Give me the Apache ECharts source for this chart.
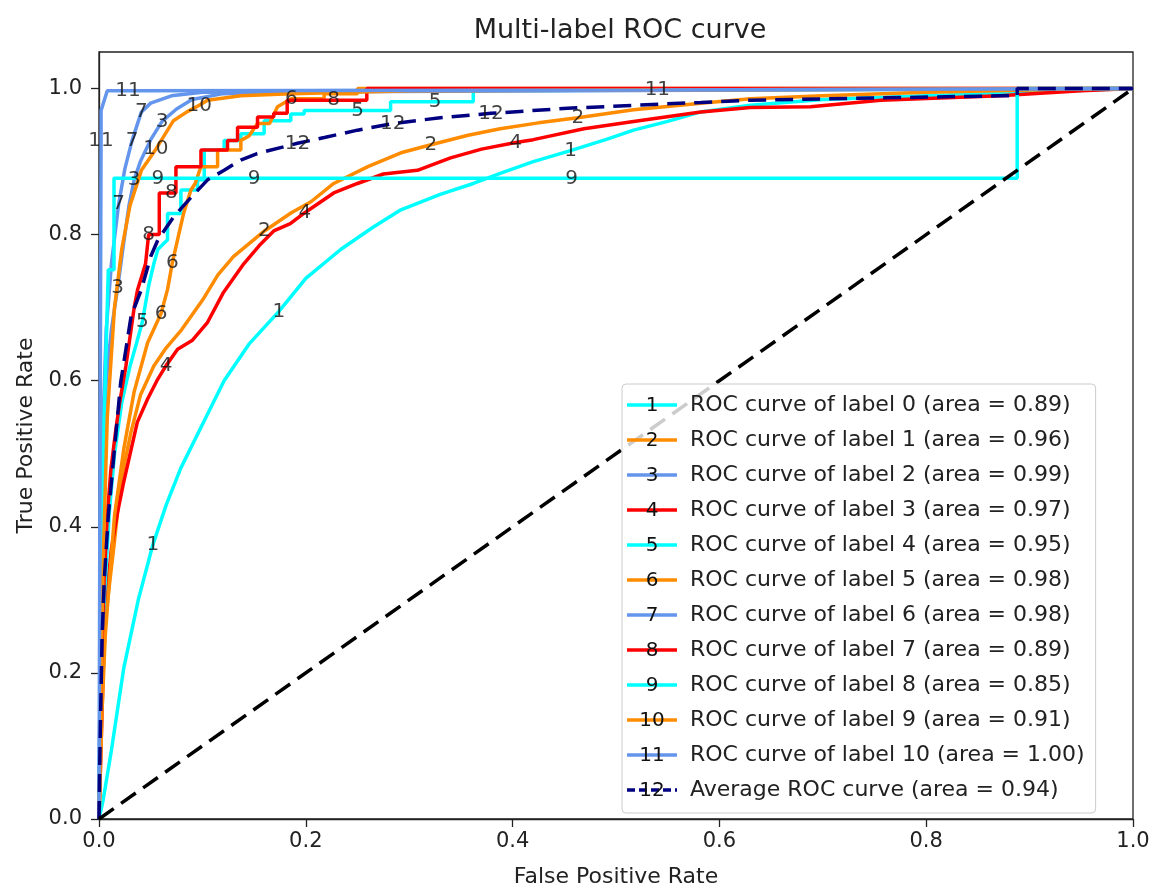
<!DOCTYPE html>
<html><head><meta charset="utf-8">
<script src="https://cdn.jsdelivr.net/npm/echarts@6/dist/echarts.min.js"></script>
<style>html,body{margin:0;padding:0;background:#fff}#c{width:1157px;height:893px}</style>
</head><body><div id="c"></div>
<script>
// ---- tick labels ----
const xTicks = [0, 0.2, 0.4, 0.6, 0.8, 1.0];
const yTicks = [0, 0.2, 0.4, 0.6, 0.8, 1.0];

// ---- legend / series meta ----
const curveLabels = ['0','1','2','3','4','5','6','7','8','9','10'];
const curveAreas  = ['0.89','0.96','0.99','0.97','0.95','0.98','0.98','0.89','0.85','0.91','1.00'];
const avgArea = '0.94';
const markerTexts = ['1','2','3','4','5','6','7','8','9','10','11','12'];

// ---- curve data [FPR, TPR] ----
const curve1 = [[0,0],[0.004,0.026],[0.012,0.094],[0.024,0.207],[0.038,0.30],[0.052,0.375],[0.065,0.43],[0.079,0.48],[0.1,0.54],[0.121,0.60],[0.145,0.65],[0.174,0.695],[0.2,0.74],[0.234,0.78],[0.265,0.81],[0.292,0.834],[0.33,0.855],[0.362,0.87],[0.39,0.885],[0.42,0.90],[0.456,0.915],[0.49,0.93],[0.517,0.943],[0.55,0.955],[0.582,0.968],[0.63,0.977],[0.7,0.985],[0.8,0.99],[0.9,0.995],[1,1]];
const curve2 = [[0,0],[0.001,0.1],[0.003,0.2],[0.006,0.27],[0.01,0.32],[0.015,0.38],[0.021,0.462],[0.031,0.53],[0.04,0.58],[0.053,0.62],[0.065,0.645],[0.08,0.67],[0.1,0.71],[0.115,0.745],[0.13,0.77],[0.16,0.805],[0.186,0.83],[0.205,0.845],[0.227,0.87],[0.26,0.893],[0.292,0.912],[0.321,0.923],[0.357,0.936],[0.388,0.945],[0.425,0.953],[0.463,0.96],[0.517,0.971],[0.582,0.98],[0.63,0.986],[0.7,0.99],[0.8,0.995],[0.9,0.998],[1,1]];
const curve3 = [[0,0],[0.001,0.2],[0.002,0.35],[0.004,0.5],[0.007,0.6],[0.012,0.67],[0.018,0.727],[0.024,0.79],[0.029,0.84],[0.034,0.875],[0.04,0.9],[0.05,0.93],[0.061,0.955],[0.075,0.972],[0.09,0.985],[0.12,0.993],[0.2,0.997],[1,1]];
const curve4 = [[0,0],[0.002,0.1],[0.004,0.2],[0.007,0.30],[0.012,0.37],[0.018,0.42],[0.024,0.462],[0.037,0.543],[0.047,0.575],[0.056,0.60],[0.065,0.621],[0.076,0.643],[0.09,0.655],[0.105,0.68],[0.12,0.72],[0.14,0.76],[0.155,0.785],[0.169,0.805],[0.185,0.815],[0.199,0.83],[0.227,0.857],[0.25,0.87],[0.275,0.883],[0.308,0.888],[0.34,0.905],[0.37,0.917],[0.403,0.926],[0.42,0.93],[0.469,0.945],[0.517,0.955],[0.582,0.968],[0.63,0.974],[0.688,0.975],[0.756,0.984],[0.871,0.99],[0.95,0.997],[1,1]];
const curve5 = [[0,0],[0.002,0.15],[0.005,0.3],[0.01,0.42],[0.015,0.5],[0.022,0.57],[0.03,0.62],[0.036,0.65],[0.042,0.681],[0.048,0.73],[0.053,0.76],[0.057,0.78],[0.0663,0.793],[0.0663,0.829],[0.0792,0.829],[0.0792,0.861],[0.0953,0.861],[0.0953,0.875],[0.1018,0.875],[0.1018,0.916],[0.121,0.916],[0.121,0.929],[0.1372,0.929],[0.1372,0.938],[0.1597,0.938],[0.1597,0.956],[0.1855,0.956],[0.1855,0.965],[0.1984,0.965],[0.1984,0.97],[0.25,0.97],[0.282,0.97],[0.282,0.982],[0.325,0.982],[0.362,0.982],[0.362,0.997],[1,1]];
const curve6 = [[0,0],[0.003,0.15],[0.006,0.25],[0.01,0.325],[0.015,0.415],[0.024,0.507],[0.034,0.585],[0.047,0.652],[0.06,0.692],[0.0663,0.725],[0.071,0.762],[0.076,0.793],[0.082,0.83],[0.0889,0.861],[0.093,0.87],[0.0986,0.893],[0.1147,0.893],[0.1147,0.916],[0.1372,0.916],[0.1372,0.929],[0.145,0.935],[0.1533,0.952],[0.165,0.952],[0.1726,0.975],[0.186,0.986],[0.2177,0.986],[0.2177,0.993],[0.25,0.993],[0.25,1],[1,1]];
const curve7 = [[0,0],[0.001,0.2],[0.002,0.35],[0.004,0.55],[0.007,0.67],[0.012,0.76],[0.019,0.842],[0.025,0.89],[0.032,0.929],[0.041,0.968],[0.05,0.98],[0.07,0.99],[0.1,0.995],[1,1]];
const curve8 = [[0,0],[0.002,0.2],[0.005,0.33],[0.008,0.415],[0.0116,0.48],[0.016,0.53],[0.02,0.57],[0.026,0.62],[0.03,0.66],[0.034,0.70],[0.0374,0.725],[0.045,0.76],[0.048,0.80],[0.0583,0.80],[0.0583,0.857],[0.07,0.857],[0.0744,0.857],[0.0744,0.893],[0.0986,0.893],[0.0986,0.916],[0.1243,0.916],[0.1243,0.929],[0.134,0.929],[0.134,0.947],[0.1533,0.947],[0.1533,0.961],[0.169,0.961],[0.169,0.966],[0.182,0.966],[0.182,0.984],[0.227,0.984],[0.259,0.984],[0.259,1.0],[1,1]];
const curve9 = [[0,0],[0.002,0.3],[0.005,0.55],[0.009,0.752],[0.0145,0.752],[0.0145,0.877],[0.057,0.877],[0.15,0.877],[0.457,0.877],[0.888,0.877],[0.888,1.0],[1,1]];
const curve10 = [[0,0],[0.002,0.2],[0.004,0.35],[0.008,0.55],[0.015,0.7],[0.022,0.78],[0.03,0.84],[0.041,0.888],[0.055,0.917],[0.072,0.956],[0.085,0.968],[0.097,0.977],[0.105,0.984],[0.137,0.99],[0.186,0.993],[0.3,0.997],[1,1]];
const curve11 = [[0,0],[0.001,0.5],[0.002,0.929],[0.002,0.97],[0.008,0.997],[0.028,0.997],[0.54,0.998],[1,1]];
const curveAvg = [[0,0],[0.001,0.1],[0.003,0.25],[0.005,0.325],[0.009,0.415],[0.015,0.507],[0.021,0.598],[0.031,0.688],[0.041,0.725],[0.05,0.77],[0.057,0.793],[0.072,0.824],[0.089,0.851],[0.105,0.875],[0.121,0.888],[0.137,0.902],[0.153,0.911],[0.192,0.925],[0.218,0.933],[0.25,0.943],[0.284,0.952],[0.33,0.96],[0.379,0.966],[0.453,0.973],[0.582,0.981],[0.63,0.984],[0.75,0.987],[0.871,0.99],[0.888,0.99],[0.888,1.0],[1,1]];
const chanceLine = [[0,0],[1,1]];

// indices of the points that carry the numbered text markers
const markerIdx = [[5,11,20],[15,21,25],[6,9,12],[10,19,26],[8,30,33],[8,10,24],[6,8,9],[12,15,30],[6,7,8],[8,11],[2,5,6],[17,20,22]];

const curves = [curve1,curve2,curve3,curve4,curve5,curve6,curve7,curve8,curve9,curve10,curve11];
const palette = ['#00ffff','#ff8c00','#6495ed','#ff0000'];
const FONT = '"DejaVu Sans", sans-serif';

function makeIcon(color, txt, dashed) {
  const c = document.createElement('canvas');
  c.width = 58; c.height = 22;
  const g = c.getContext('2d');
  g.strokeStyle = color; g.lineWidth = 3.5;
  if (dashed) g.setLineDash([8, 4]);
  g.beginPath(); g.moveTo(0, 11); g.lineTo(50, 11); g.stroke();
  g.fillStyle = '#111'; g.font = '20px "DejaVu Sans"';
  g.textAlign = 'center'; g.textBaseline = 'middle';
  g.fillText(txt, 25, 12);
  return 'image://' + c.toDataURL();
}

const series = [];
const legendData = [];
curves.forEach((d, i) => {
  const name = `ROC curve of label ${curveLabels[i]} (area = ${curveAreas[i]})`;
  const color = palette[i % 4];
  series.push({
    type: 'line', name, data: d, symbol: 'none',
    lineStyle: {color, width: 3.5}, itemStyle: {color}, z: 2 + i * 0.01, silent: true
  });
  legendData.push({name, icon: makeIcon(color, markerTexts[i], false)});
});
const avgName = `Average ROC curve (area = ${avgArea})`;
series.push({
  type: 'line', name: avgName, data: curveAvg, symbol: 'none',
  lineStyle: {color: '#000080', width: 3.5, type: [18, 9]}, itemStyle: {color: '#000080'}, z: 2.2, silent: true
});
legendData.push({name: avgName, icon: makeIcon('#000080', markerTexts[11], true)});

series.push({
  type: 'line', name: 'chance', data: chanceLine, symbol: 'none',
  lineStyle: {color: '#000', width: 3.5, type: [18, 9]}, z: 2.3, silent: true
});

const allCurves = curves.concat([curveAvg]);
const markers = [];
allCurves.forEach((d, i) => {
  markerIdx[i].forEach(k => markers.push({value: d[k], t: markerTexts[i]}));
});
series.push({
  type: 'scatter', name: 'markers', data: markers, symbolSize: 1,
  itemStyle: {color: 'rgba(0,0,0,0)'}, silent: true, z: 3,
  label: {show: true, position: 'inside', formatter: p => p.data.t, fontSize: 20, color: '#111', fontFamily: FONT}
});

const chart = echarts.init(document.getElementById('c'), null, {renderer: 'canvas'});
chart.setOption({
  animation: false,
  backgroundColor: '#fff',
  title: {
    text: 'Multi-label ROC curve', left: 615, top: 12, textAlign: 'center',
    textStyle: {fontSize: 27, fontWeight: 'normal', color: '#222', fontFamily: FONT}
  },
  grid: {left: 99, right: 24, top: 52, bottom: 66, show: true, borderColor: '#222', borderWidth: 1.3, backgroundColor: 'transparent'},
  xAxis: {
    type: 'value', min: 0, max: 1, interval: 0.2,
    name: 'False Positive Rate', nameLocation: 'middle', nameGap: 47,
    nameTextStyle: {fontSize: 22, color: '#222', fontFamily: FONT},
    axisLine: {lineStyle: {color: '#222', width: 1.3}},
    axisTick: {show: true, length: 8, lineStyle: {color: '#222', width: 1.3}, customValues: xTicks},
    axisLabel: {fontSize: 21, color: '#222', fontFamily: FONT, margin: 12, customValues: xTicks, formatter: v => v.toFixed(1)},
    splitLine: {show: false}
  },
  yAxis: {
    type: 'value', min: 0, max: 1.05, interval: 0.2,
    name: 'True Positive Rate', nameLocation: 'middle', nameGap: 60,
    nameTextStyle: {fontSize: 22, color: '#222', fontFamily: FONT},
    axisLine: {show: true, lineStyle: {color: '#222', width: 1.3}},
    axisTick: {show: true, length: 8, lineStyle: {color: '#222', width: 1.3}, customValues: yTicks},
    axisLabel: {fontSize: 21, color: '#222', fontFamily: FONT, margin: 17, customValues: yTicks, formatter: v => v.toFixed(1)},
    splitLine: {show: false}
  },
  legend: {
    data: legendData, orient: 'vertical', left: 622, top: 384,
    itemWidth: 58, itemHeight: 22, itemGap: 13,
    padding: [10, 11, 12, 5],
    backgroundColor: 'rgba(255,255,255,0.8)', borderColor: '#ccc', borderWidth: 1, borderRadius: 4,
    textStyle: {fontSize: 22, color: '#222', fontFamily: FONT},
    selectedMode: false
  },
  series
});
</script></body></html>
